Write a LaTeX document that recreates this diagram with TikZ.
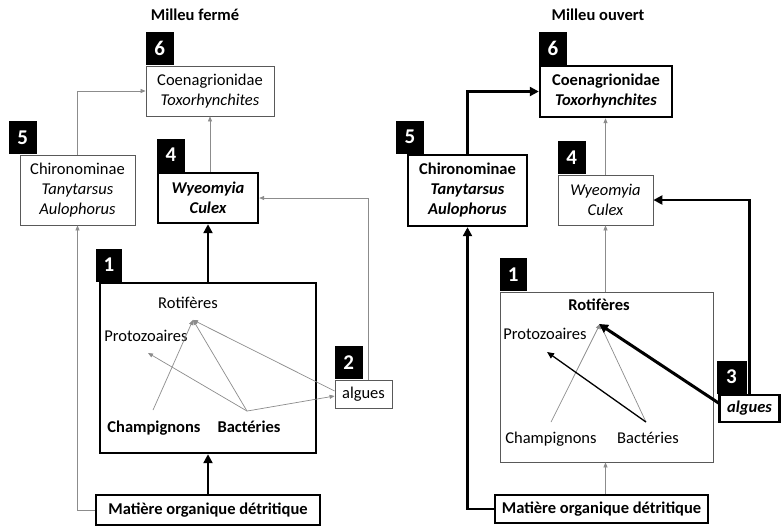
\documentclass[tikz,border=0pt]{standalone}
\usepackage{fontspec}
\setmainfont{Carlito}
\usetikzlibrary{arrows.meta,calc}
\begin{document}
\begin{tikzpicture}[x=1pt,y=-1pt,
  every node/.style={font=\fontsize{16.5}{20}\selectfont},
  bfnode/.style={font=\fontsize{16.5}{20}\selectfont\bfseries},
  tbox/.style={draw=black!65, line width=0.8pt, fill=white, inner sep=0pt, align=center},
  Tbox/.style={draw=black, line width=2.4pt, fill=white, inner sep=0pt, align=center},
  numlab/.style={fill=black, text=white, font=\fontsize{21}{21}\selectfont\bfseries, minimum width=28pt, minimum height=33pt, inner sep=0pt, anchor=south west},
  itxt/.style={inner sep=0pt, text height=12pt, text depth=3.5pt},
  arrthin/.style={draw=black!45, line width=0.7pt, -{Triangle[length=5pt,width=4pt]}},
  arrmid/.style={draw=black, line width=1.3pt, -{Triangle[length=7pt,width=6pt]}},
  arrthick/.style={draw=black, line width=2.6pt, -{Triangle[length=9pt,width=9pt]}},
  plainthick/.style={draw=black, line width=2.6pt},
  plainthin/.style={draw=black!45, line width=0.7pt}
]
\fill[white] (0,0) rectangle (781,528);
\useasboundingbox (0,0) rectangle (781,528);

% ---------------- Left panel: Milleu fermé ----------------
\node[bfnode] (LT) at (195,15) {Milleu fermé};

\node[tbox, minimum width=128pt, minimum height=50pt] (L6) at (210,91) {Coenagrionidae\\\textit{Toxorhynchites}};
\node[numlab] (L6n) at (L6.north west) {6};

\node[tbox, minimum width=115pt, minimum height=70pt] (L5) at (77.5,190) {Chironominae\\\textit{Tanytarsus}\\\textit{Aulophorus}};
\node[numlab] (L5n) at ($(L5.north west)+(-11,0)$) {5};

\node[Tbox, minimum width=100pt, minimum height=50pt, font=\fontsize{16.5}{20}\selectfont\bfseries\itshape] (L4) at (208,198) {Wyeomyia\\Culex};
\node[numlab] (L4n) at (L4.north west) {4};

\node[Tbox, minimum width=216pt, minimum height=170pt] (L1) at (208,368) {};
\node[numlab, minimum width=26pt] (L1n) at ($(L1.north west)+(-3,0)$) {1};

\node[tbox, minimum width=57pt, minimum height=28pt] (L2) at (363.5,394) {algues};
\node[numlab] (L2n) at (L2.north west) {2};

\node[Tbox, minimum width=224pt, minimum height=30pt, font=\fontsize{16.5}{20}\selectfont\bfseries] (LM) at (208,510) {Matière organique détritique};

\node[itxt] (LRot) at (188,304) {Rotifères};
\node[itxt] (LPro) at (146,337) {Protozoaires};
\node[itxt, bfnode] (LCha) at (154,428) {Champignons};
\node[itxt, bfnode] (LBac) at (249,428) {Bactéries};

% connectors left
\draw[arrthin] (L5.north) |- (L6.west);
\draw[arrthin] (L4.north -| L6.south) -- (L6.south);
\draw[arrthin] ([xshift=4.5pt]L2.north) |- (L4.east);
\draw[arrthick] (L1.north) -- (L4.south);
\draw[arrthick] (LM.north) -- (L1.south);
\draw[arrthin] (LM.west) -| (L5.south);

\draw[arrthin] ($(LCha.north)+(-1,-10)$) -- ($(LRot.south)+(5,8)$);
\draw[arrthin] ($(LBac.north)+(-2,-9)$) -- ($(LRot.south)+(5,8)$);
\draw[arrthin] ($(LBac.north)+(-2,-9)$) -- ($(LPro.south)+(2,8)$);
\draw[arrthin] ($(LBac.north)+(-2,-9)$) -- ($(L2.west)+(0,2)$);
\draw[arrthin] ($(L2.west)+(0,-3)$) -- ($(LRot.south)+(5,8)$);

% ---------------- Right panel: Milleu ouvert ----------------
\node[bfnode] (RT) at (598,15) {Milleu ouvert};

\node[Tbox, minimum width=132pt, minimum height=51pt, font=\fontsize{16.5}{20}\selectfont\bfseries] (R6) at (606,91.5) {Coenagrionidae\\\textit{Toxorhynchites}};
\node[numlab] (R6n) at (R6.north west) {6};

\node[Tbox, minimum width=119pt, minimum height=71pt, font=\fontsize{16.5}{20}\selectfont\bfseries] (R5) at (467.5,190.5) {Chironominae\\\textit{Tanytarsus}\\\textit{Aulophorus}};
\node[numlab] (R5n) at ($(R5.north west)+(-11,0)$) {5};

\node[tbox, minimum width=95pt, minimum height=50pt, font=\fontsize{16.5}{20}\selectfont\itshape] (R4) at (605.5,200) {Wyeomyia\\Culex};
\node[numlab] (R4n) at (R4.north west) {4};

\node[tbox, minimum width=213pt, minimum height=170pt] (R1) at (606.5,377) {};
\node[numlab, minimum width=27pt] (R1n) at (R1.north west) {1};

\node[Tbox, minimum width=60pt, minimum height=27pt, font=\fontsize{16.5}{20}\selectfont\bfseries\itshape] (R3) at (749.5,408.5) {algues};
\node[numlab, minimum width=30pt] (R3n) at ($(R3.north west)+(-2,0)$) {3};

\node[Tbox, minimum width=213pt, minimum height=28pt, font=\fontsize{16.5}{20}\selectfont\bfseries] (RM) at (601.5,509) {Matière organique détritique};

\node[itxt, bfnode] (RRot) at (599,306) {Rotifères};
\node[itxt] (RPro) at (545,335) {Protozoaires};
\node[itxt] (RCha) at (551,439) {Champignons};
\node[itxt] (RBac) at (648,439) {Bactéries};

% connectors right
\draw[arrthick] (R5.north) |- (R6.west);
\draw[arrthin] (R4.north) -- (R4.north |- R6.south);
\draw[arrthin] (R1.north -| R4.north) -- (R4.south);
\draw[arrthin] (RM.north -| R4.north) -- (R1.south -| R4.north);
\draw[arrthick] (RM.west) -| (R5.south);
\draw[arrthick] (R3.north) |- (R4.east);

\draw[arrthin] ($(RCha.north)+(0,-9)$) -- ($(RRot.south)+(1,10)$);
\draw[arrthin] ($(RBac.north)+(-2,-9)$) -- ($(RRot.south)+(1,10)$);
\draw[arrmid] ($(RBac.north)+(-2,-9)$) -- ($(RPro.south)+(2,9)$);
\draw[arrthick, line width=3pt] ($(R3.west)+(1,-5)$) -- ($(RRot.south)+(0,10)$);
\end{tikzpicture}
\end{document}
